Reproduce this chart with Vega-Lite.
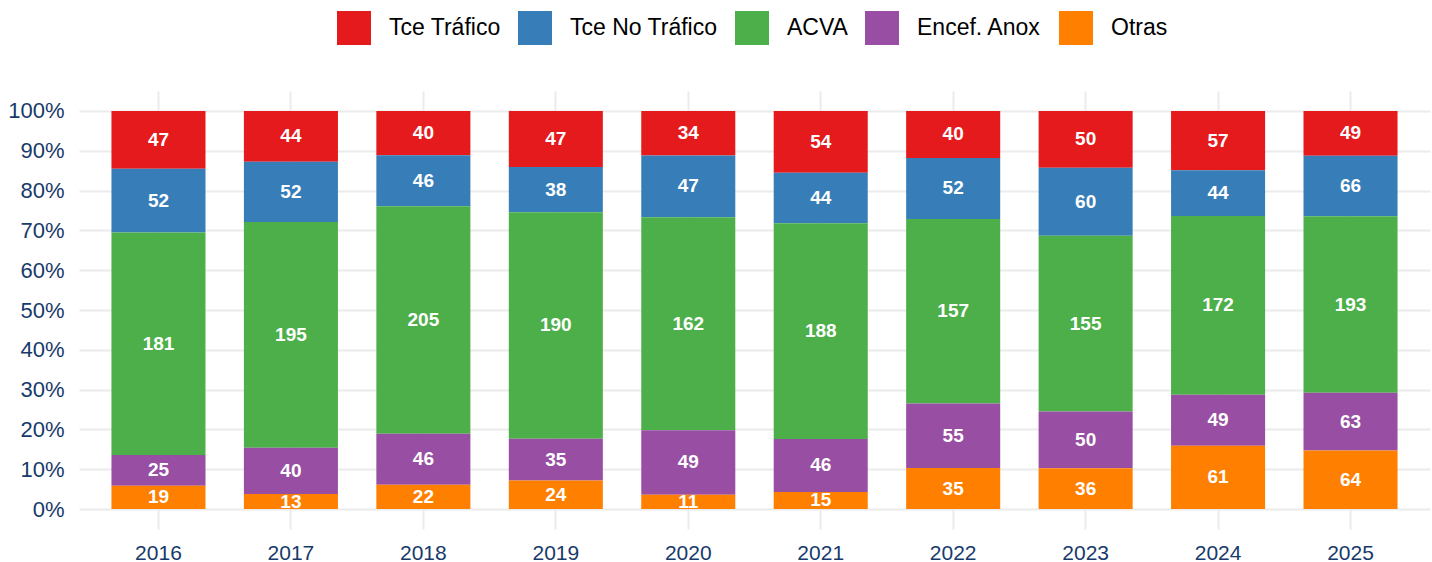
{
  "$schema": "https://vega.github.io/schema/vega-lite/v6.json",
  "width": 1351,
  "height": 438,
  "autosize": {"type": "none"},
  "padding": {"left": 79, "top": 91, "right": 2, "bottom": 33},
  "background": "white",
  "config": {"view": {"stroke": null}, "font": "Liberation Sans"},
  "data": {
    "values": [
      {"year": "2016", "cat": "Tce Tráfico", "n": 47},
      {"year": "2016", "cat": "Tce No Tráfico", "n": 52},
      {"year": "2016", "cat": "ACVA", "n": 181},
      {"year": "2016", "cat": "Encef. Anox", "n": 25},
      {"year": "2016", "cat": "Otras", "n": 19},
      {"year": "2017", "cat": "Tce Tráfico", "n": 44},
      {"year": "2017", "cat": "Tce No Tráfico", "n": 52},
      {"year": "2017", "cat": "ACVA", "n": 195},
      {"year": "2017", "cat": "Encef. Anox", "n": 40},
      {"year": "2017", "cat": "Otras", "n": 13},
      {"year": "2018", "cat": "Tce Tráfico", "n": 40},
      {"year": "2018", "cat": "Tce No Tráfico", "n": 46},
      {"year": "2018", "cat": "ACVA", "n": 205},
      {"year": "2018", "cat": "Encef. Anox", "n": 46},
      {"year": "2018", "cat": "Otras", "n": 22},
      {"year": "2019", "cat": "Tce Tráfico", "n": 47},
      {"year": "2019", "cat": "Tce No Tráfico", "n": 38},
      {"year": "2019", "cat": "ACVA", "n": 190},
      {"year": "2019", "cat": "Encef. Anox", "n": 35},
      {"year": "2019", "cat": "Otras", "n": 24},
      {"year": "2020", "cat": "Tce Tráfico", "n": 34},
      {"year": "2020", "cat": "Tce No Tráfico", "n": 47},
      {"year": "2020", "cat": "ACVA", "n": 162},
      {"year": "2020", "cat": "Encef. Anox", "n": 49},
      {"year": "2020", "cat": "Otras", "n": 11},
      {"year": "2021", "cat": "Tce Tráfico", "n": 54},
      {"year": "2021", "cat": "Tce No Tráfico", "n": 44},
      {"year": "2021", "cat": "ACVA", "n": 188},
      {"year": "2021", "cat": "Encef. Anox", "n": 46},
      {"year": "2021", "cat": "Otras", "n": 15},
      {"year": "2022", "cat": "Tce Tráfico", "n": 40},
      {"year": "2022", "cat": "Tce No Tráfico", "n": 52},
      {"year": "2022", "cat": "ACVA", "n": 157},
      {"year": "2022", "cat": "Encef. Anox", "n": 55},
      {"year": "2022", "cat": "Otras", "n": 35},
      {"year": "2023", "cat": "Tce Tráfico", "n": 50},
      {"year": "2023", "cat": "Tce No Tráfico", "n": 60},
      {"year": "2023", "cat": "ACVA", "n": 155},
      {"year": "2023", "cat": "Encef. Anox", "n": 50},
      {"year": "2023", "cat": "Otras", "n": 36},
      {"year": "2024", "cat": "Tce Tráfico", "n": 57},
      {"year": "2024", "cat": "Tce No Tráfico", "n": 44},
      {"year": "2024", "cat": "ACVA", "n": 172},
      {"year": "2024", "cat": "Encef. Anox", "n": 49},
      {"year": "2024", "cat": "Otras", "n": 61},
      {"year": "2025", "cat": "Tce Tráfico", "n": 49},
      {"year": "2025", "cat": "Tce No Tráfico", "n": 66},
      {"year": "2025", "cat": "ACVA", "n": 193},
      {"year": "2025", "cat": "Encef. Anox", "n": 63},
      {"year": "2025", "cat": "Otras", "n": 64}
    ]
  },
  "transform": [
    {"calculate": "indexof(['Otras','Encef. Anox','ACVA','Tce No Tráfico','Tce Tráfico'], datum.cat)", "as": "ord"},
    {"stack": "n", "groupby": ["year"], "sort": [{"field": "ord", "order": "ascending"}], "offset": "normalize", "as": ["y0", "y1"]},
    {"calculate": "(datum.y0 + datum.y1) / 2", "as": "ymid"}
  ],
  "encoding": {
    "x": {
      "field": "year",
      "type": "ordinal",
      "scale": {"paddingInner": 0.29, "paddingOuter": 0.245},
      "axis": {
        "title": null,
        "labelAngle": 0,
        "labelFontSize": 21,
        "labelColor": "#173a6a",
        "labelPadding": 13,
        "ticks": false,
        "tickSize": 0,
        "domain": false,
        "grid": true,
        "bandPosition": 0.5,
        "gridColor": "#ebebeb",
        "gridWidth": 2
      }
    }
  },
  "layer": [
    {
      "mark": {"type": "bar"},
      "encoding": {
        "y": {
          "field": "y0",
          "type": "quantitative",
          "scale": {"domain": [-0.05, 1.05], "nice": false, "zero": false},
          "axis": {
            "title": null,
            "values": [0, 0.1, 0.2, 0.3, 0.4, 0.5, 0.6, 0.7, 0.8, 0.9, 1],
            "format": ".0%",
            "labelFontSize": 22,
            "labelColor": "#173a6a",
            "labelPadding": 15,
            "ticks": false,
            "tickSize": 0,
            "domain": false,
            "grid": true,
            "gridColor": "#ebebeb",
            "gridWidth": 2
          }
        },
        "y2": {"field": "y1"},
        "color": {
          "field": "cat",
          "type": "nominal",
          "scale": {
            "domain": ["Tce Tráfico", "Tce No Tráfico", "ACVA", "Encef. Anox", "Otras"],
            "range": ["#E41A1C", "#377EB8", "#4DAF4A", "#984EA3", "#FF7F00"]
          },
          "legend": {
            "orient": "none",
            "legendX": 258,
            "legendY": -80,
            "direction": "horizontal",
            "title": null,
            "symbolType": "square",
            "symbolSize": 1156,
            "symbolStrokeWidth": 0,
            "symbolOpacity": 1,
            "labelFontSize": 23,
            "labelColor": "#000000",
            "labelOffset": 18,
            "columnPadding": 17,
            "padding": 0
          }
        }
      }
    },
    {
      "mark": {"type": "text", "color": "white", "fontWeight": "bold", "fontSize": 19, "baseline": "middle"},
      "encoding": {
        "y": {"field": "ymid", "type": "quantitative"},
        "text": {"field": "n", "type": "quantitative"}
      }
    }
  ]
}
